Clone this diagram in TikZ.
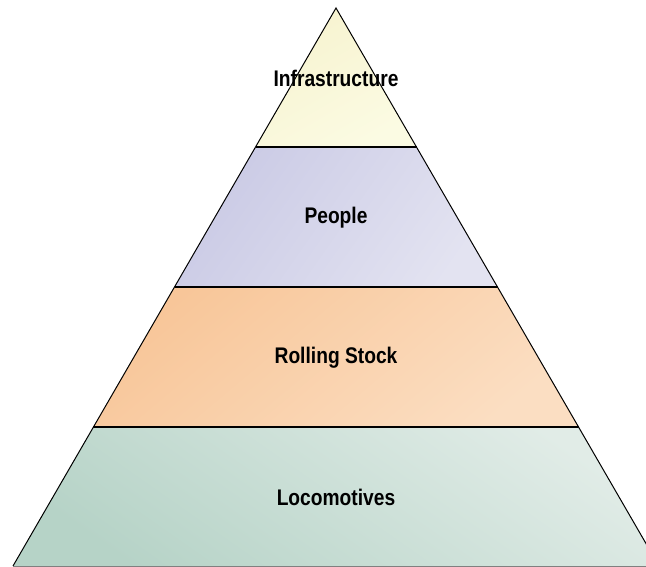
\documentclass[tikz,border=0pt]{standalone}
\usepackage{fontspec}
\setmainfont{Liberation Sans}
\newfontfamily\labelfont{Liberation Sans}[FakeStretch=0.85]
\definecolor{infraA}{HTML}{F7F3CF}
\definecolor{infraB}{HTML}{FBFBE3}
\definecolor{peopleA}{HTML}{CACAE5}
\definecolor{peopleB}{HTML}{E3E3F1}
\definecolor{rollA}{HTML}{F8C699}
\definecolor{rollB}{HTML}{FBDEC2}
\definecolor{locoA}{HTML}{B6D3C7}
\definecolor{locoB}{HTML}{E1ECE7}
\tikzset{
  band/.style={draw=none},
  divider/.style={draw=black, line width=1.2pt},
  edge/.style={draw=black, line width=1pt},
  baseedge/.style={draw=gray, line width=1pt},
  lbl/.style={font=\labelfont\bfseries\fontsize{22.6}{26}\selectfont, text=black, inner sep=0pt}
}
\begin{document}
\begin{tikzpicture}[x=1pt,y=-1pt]
\useasboundingbox (0,0) rectangle (646,567);
\clip (0,0) rectangle (646,567);
% vertices
\coordinate (apex) at (336,8);
\coordinate (l1) at (255.5,147); \coordinate (r1) at (416.5,147);
\coordinate (l2) at (174.5,287); \coordinate (r2) at (497.5,287);
\coordinate (l3) at (93.4,427);  \coordinate (r3) at (578.6,427);
\coordinate (l4) at (13,566);    \coordinate (r4) at (659,566);
% bands
\shade[band, top color=infraA, bottom color=infraB, shading angle=30]
  (apex) -- (r1) -- (l1) -- cycle;
\shade[band, top color=peopleA, bottom color=peopleB, shading angle=55]
  (l1) -- (r1) -- (r2) -- (l2) -- cycle;
\shade[band, top color=rollA, bottom color=rollB, shading angle=40]
  (l2) -- (r2) -- (r3) -- (l3) -- cycle;
\shade[band, top color=locoB, bottom color=locoA, shading angle=-35]
  (l3) -- (r3) -- (r4) -- (l4) -- cycle;
% outline
\draw[edge] (l4) -- (apex) -- (r4);
\draw[baseedge] (l4) -- (r4);
\draw[divider] (l1) -- (r1);
\draw[divider] (l2) -- (r2);
\draw[divider] (l3) -- (r3);
% labels
\node[lbl] (infra) at (336,78) {Infrastructure};
\node[lbl] (people) at (336,218) {People};
\node[lbl] (rolling) at (336,358) {Rolling Stock};
\node[lbl] (loco) at (336,497) {Locomotives};
\end{tikzpicture}
\end{document}
